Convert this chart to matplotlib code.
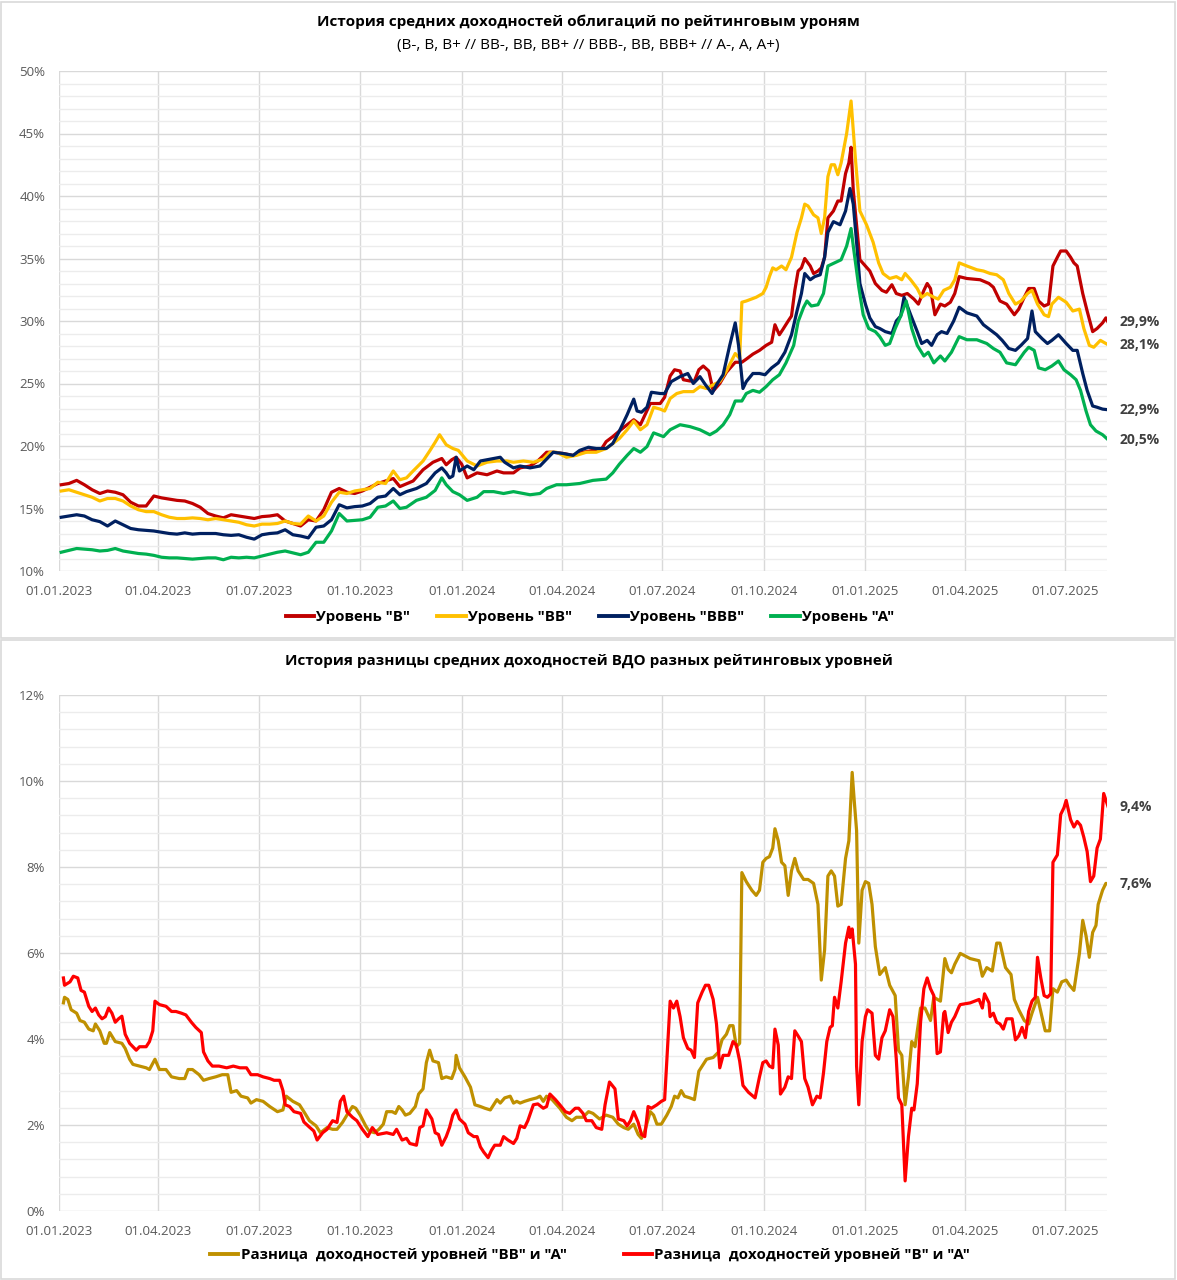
import numpy as np
import matplotlib
matplotlib.use('Agg')
import matplotlib.pyplot as plt
import matplotlib.dates as mdates
from matplotlib.lines import Line2D
from matplotlib.patches import Rectangle

plt.rcParams['font.family'] = ['Open Sans', 'DejaVu Sans']

# days since 01.01.2023
start = np.datetime64('2023-01-01')

week_days = [2, 9, 16, 23, 30, 37, 44, 51, 58, 65,
             72, 79, 86, 93, 100, 107, 114, 121, 128, 135,
             142, 149, 156, 163, 170, 177, 184, 191, 198, 205,
             212, 219, 226, 233, 240, 247, 254, 261, 268, 275,
             282, 289, 296, 303]

# ---- top chart: average yields by rating level ----
b_days = week_days + [
    309, 321, 330, 339, 347, 351, 356, 360, 365, 370,
    379, 388, 397, 403, 412, 418, 427, 434, 442, 448,
    457, 466, 475, 484, 492, 496, 502, 508, 515, 521,
    527, 536, 545, 549, 554, 558, 563, 566, 572, 576,
    580, 584, 589, 593, 599, 605, 613, 619, 623, 629,
    635, 641, 646, 649, 653, 656, 661, 664, 667, 670,
    673, 676, 681, 684, 688, 691, 694, 697, 702, 706,
    709, 713, 716, 718, 720, 723, 726, 731, 735, 740,
    746, 750, 755, 759, 764, 769, 775, 779, 784, 787,
    790, 794, 799, 803, 808, 812, 816, 823, 835, 843,
    847, 853, 859, 866, 870, 875, 879, 884, 888, 893,
    897, 901, 905, 908, 913, 917, 920, 923, 928, 932,
    937, 941, 946, 949, 951]
b_vals = [
    16.9, 17.0, 17.25, 16.9, 16.5, 16.2, 16.4, 16.3, 16.1, 15.5,
    15.2, 15.2, 16.0, 15.85, 15.75, 15.65, 15.6, 15.4, 15.1, 14.6,
    14.4, 14.25, 14.5, 14.4, 14.3, 14.2, 14.35, 14.4, 14.5, 14.0,
    13.8, 13.6, 14.1, 14.0, 14.9, 16.3, 16.6, 16.3, 16.2, 16.4,
    16.7, 17.0, 17.2, 17.4,
    16.75, 17.2, 18.1, 18.7, 19.0, 18.5, 18.9, 19.1, 18.55, 17.45,
    17.85, 17.7, 18.0, 17.85, 17.85, 18.25, 18.4, 18.8, 19.5, 19.5,
    19.4, 19.25, 19.5, 19.65, 19.8, 20.35, 20.75, 21.2, 21.7, 22.1,
    21.7, 23.4, 23.4, 23.9, 25.6, 26.1, 26.0, 25.3, 25.2, 25.2,
    26.1, 26.4, 26.0, 24.4, 25.0, 25.9, 26.7, 26.7, 26.95, 27.35,
    27.65, 28.05, 28.3, 29.7, 28.9, 29.3, 30.0, 30.4, 32.45, 34.0,
    34.25, 35.0, 34.4, 33.8, 34.0, 34.25, 35.1, 38.25, 38.8, 39.6,
    39.6, 41.8, 42.65, 43.9, 40.45, 37.7, 34.9, 34.4, 34.0, 33.0,
    32.45, 32.3, 32.9, 32.2, 32.05, 32.2, 31.75, 31.35, 32.45, 33.0,
    32.6, 30.5, 31.35, 31.2, 31.5, 32.2, 33.55, 33.4, 33.3, 33.0,
    32.7, 31.6, 31.35, 30.5, 30.95, 31.9, 32.6, 32.6, 31.6, 31.2,
    31.35, 34.4, 35.1, 35.6, 35.6, 35.1, 34.65, 34.4, 32.2, 30.8,
    29.15, 29.4, 29.85, 30.25, 29.9]

bb_days = week_days + [
    309, 315, 321, 330, 336, 341, 345, 351, 357, 362,
    370, 379, 388, 397, 406, 412, 421, 430, 439, 445,
    451, 460, 469, 478, 487, 496, 502, 508, 515, 521,
    527, 533, 539, 545, 549, 554, 560, 566, 575, 581,
    587, 593, 599, 605, 613, 617, 619, 623, 632, 638,
    641, 644, 647, 650, 655, 659, 664, 669, 673, 676,
    679, 684, 688, 691, 694, 697, 700, 703, 706, 709,
    714, 718, 722, 726, 732, 738, 743, 747, 753, 759,
    764, 767, 772, 778, 782, 787, 793, 797, 802, 808,
    812, 816, 823, 832, 838, 844, 850, 856, 861, 867,
    872, 878, 882, 887, 893, 897, 900, 906, 913, 919,
    925, 929, 934, 938, 944, 951]
bb_vals = [
    16.4, 16.5, 16.3, 16.1, 15.9, 15.6, 15.8, 15.8, 15.6, 15.2,
    14.9, 14.75, 14.75, 14.5, 14.3, 14.2, 14.2, 14.25, 14.2, 14.1,
    14.2, 14.1, 14.0, 13.9, 13.7, 13.6, 13.75, 13.75, 13.8, 14.0,
    13.8, 13.75, 14.4, 14.0, 14.4, 15.5, 16.3, 16.2, 16.4, 16.5,
    16.6, 17.1, 17.0, 18.0,
    17.3, 17.45, 18.0, 18.8, 19.6, 20.3, 20.9, 20.1, 19.8, 19.65,
    18.8, 18.4, 18.7, 18.8, 18.8, 18.7, 18.8, 18.7, 18.95, 19.5,
    19.5, 19.1, 19.25, 19.5, 19.5, 19.8, 20.2, 20.6, 21.3, 22.0,
    21.3, 21.7, 23.1, 22.95, 22.8, 23.8, 24.2, 24.35, 24.35, 24.75,
    24.6, 24.9, 25.15, 26.0, 27.4, 27.0, 31.5, 31.6, 31.9, 32.2,
    32.7, 33.55, 34.25, 34.1, 34.4, 34.1, 35.1, 37.1, 38.25, 39.35,
    39.2, 38.5, 38.25, 37.0, 38.25, 41.55, 42.5, 42.5, 41.7, 42.65,
    45.0, 47.6, 42.9, 38.8, 37.7, 36.3, 34.65, 33.8, 33.4, 33.55,
    33.3, 33.8, 33.3, 32.6, 31.9, 32.2, 31.9, 31.75, 32.45, 32.7,
    33.3, 34.65, 34.4, 34.1, 34.0, 33.8, 33.7, 33.3, 32.2, 31.35,
    31.6, 32.2, 32.45, 31.35, 30.5, 30.35, 31.35, 31.9, 31.5, 30.8,
    30.95, 29.4, 28.05, 27.9, 28.45, 28.1]

bbb_days = week_days + [
    309, 315, 324, 333, 341, 347, 351, 354, 357, 360,
    363, 370, 376, 382, 391, 400, 404, 412, 418, 427,
    436, 442, 448, 457, 466, 472, 480, 487, 496, 502,
    508, 515, 521, 524, 528, 533, 537, 545, 549, 555,
    563, 570, 575, 581, 586, 592, 596, 602, 608, 613,
    616, 620, 623, 629,
    635, 640, 646, 652, 658, 664, 669, 673, 676, 681,
    685, 690, 694, 697, 702, 708, 713, 717, 720, 723,
    726, 731, 735, 740, 744, 749, 755, 759, 763, 766,
    772, 778, 782, 787, 791, 796, 800, 805, 811, 816,
    823, 832, 838, 844, 850, 855, 861, 867, 872, 878,
    882, 885, 891, 896, 900, 906, 913, 919, 923, 928,
    932, 937, 941, 946, 951]
bbb_vals = [
    14.3, 14.4, 14.5, 14.4, 14.1, 13.95, 13.6, 14.0, 13.7, 13.4,
    13.3, 13.25, 13.2, 13.1, 13.0, 12.95, 13.05, 12.95, 13.0, 13.0,
    13.0, 12.9, 12.85, 12.9, 12.7, 12.55, 12.9, 13.0, 13.05, 13.3,
    12.9, 12.8, 12.65, 13.5, 13.6, 14.1, 15.3, 15.05, 15.15, 15.2,
    15.4, 15.9, 16.0, 16.6,
    16.1, 16.35, 16.6, 17.0, 17.85, 18.25, 17.85, 17.45, 17.6, 19.1,
    18.0, 18.4, 18.1, 18.8, 18.95, 19.1, 18.7, 18.25, 18.4, 18.25,
    18.4, 18.95, 19.5, 19.4, 19.25, 19.65, 19.9, 19.8, 19.8, 20.2,
    21.2, 22.5, 23.75, 22.8, 22.7, 23.1, 24.3, 24.2, 24.2, 25.15,
    25.55, 25.8, 25.0, 25.55, 24.9, 24.2, 24.9, 25.7, 28.05, 29.85,
    28.05, 24.6, 25.15, 25.8,
    25.8, 25.7, 26.25, 26.65, 27.5, 28.9, 30.8, 32.2, 33.8, 33.3,
    33.55, 33.7, 35.1, 37.1, 37.95, 37.7, 38.8, 40.6, 39.35, 36.3,
    33.0, 31.35, 30.25, 29.55, 29.4, 29.15, 29.0, 30.0, 30.4, 31.9,
    30.5, 29.15, 28.2, 28.45, 28.05, 28.9, 29.15, 29.0, 30.0, 31.1,
    30.65, 30.4, 29.7, 29.3, 28.9, 28.45, 27.8, 27.65, 28.05, 28.6,
    30.8, 29.15, 28.6, 28.2, 28.45, 28.9, 28.2, 27.65, 27.65, 25.8,
    24.45, 23.2, 23.1, 22.95, 22.9]

a_days = week_days + [
    309, 315, 324, 333, 341, 347, 351, 357, 363, 370,
    379, 385, 394, 403, 412, 421, 427, 436, 442, 451,
    460, 472, 484, 496, 502, 508, 515, 521, 527, 533,
    539, 548, 554, 563, 572, 581, 590, 596, 602, 608,
    613, 619, 623, 629,
    635, 641, 647, 653, 659, 666, 670, 675, 678, 682,
    688, 693, 697, 703, 709, 714, 718, 720, 725, 729,
    734, 740, 744, 749, 753, 758, 763, 768, 773, 778,
    784, 788, 793, 799, 803, 809, 816, 823, 832, 841,
    847, 853, 859, 867, 875, 879, 884, 888, 894, 900,
    906, 911, 917, 922, 926, 931, 935, 940, 946, 951]
a_vals = [
    11.5, 11.65, 11.8, 11.75, 11.7, 11.6, 11.65, 11.8, 11.6, 11.5,
    11.4, 11.35, 11.25, 11.1, 11.05, 11.05, 11.0, 10.95, 11.0, 11.05,
    11.05, 10.9, 11.1, 11.05, 11.1, 11.05, 11.2, 11.35, 11.5, 11.6,
    11.45, 11.3, 11.5, 12.3, 12.3, 13.2, 14.6, 14.0, 14.05, 14.1,
    14.3, 15.1, 15.2, 15.6,
    15.0, 15.1, 15.65, 15.9, 16.45, 17.45, 16.9, 16.35, 16.1, 15.65,
    15.9, 16.35, 16.35, 16.2, 16.35, 16.2, 16.1, 16.2, 16.6, 16.9,
    16.9, 17.0, 17.25, 17.35, 17.85, 18.55, 19.25, 19.8, 19.5, 19.95,
    21.05, 20.75, 21.3, 21.7, 21.55, 21.3, 20.9, 21.2, 21.7, 22.5,
    23.6, 23.6, 24.2, 24.45,
    24.3, 24.75, 25.3, 25.7, 26.65, 28.05, 29.95, 31.1, 31.6, 31.2,
    31.3, 32.2, 34.4, 34.65, 34.9, 36.0, 37.4, 36.0, 32.7, 30.5,
    29.4, 29.15, 28.75, 28.05, 28.2, 29.4, 30.4, 31.6, 29.4, 28.05,
    27.2, 27.5, 26.65, 27.2, 26.8, 27.5, 28.75, 28.5, 28.5, 28.2,
    27.8, 27.5, 26.65, 26.5, 27.5, 27.9, 27.65, 26.25, 26.1, 26.4,
    26.8, 26.1, 25.7, 25.3, 24.45, 22.8, 21.7, 21.2, 20.9, 20.5]

# ---- bottom chart: spreads ----
bba_days = [
    4, 5, 8, 11, 16, 19, 23, 27, 31, 33,
    37, 41, 43, 46, 51, 57, 60, 64, 67, 73,
    79, 82, 87, 91, 97, 102, 109, 114, 117, 121,
    127, 131, 136, 142, 148, 153, 156, 161, 165, 171,
    174, 179, 185, 191, 198, 203, 206, 212, 218, 222,
    227, 233, 237, 243, 248, 252, 257, 261, 266, 269,
    273, 278, 281, 286, 290,
    294, 297, 302, 305, 308, 311, 314, 318, 323, 326,
    330, 333, 336, 339, 344, 347, 351, 356, 359, 360,
    363, 368, 373, 377, 382, 386, 391, 397, 400, 404,
    409, 412, 415, 418, 422, 427, 433, 436, 439, 442,
    447, 454, 460, 465, 469, 475, 480, 484, 490, 496,
    502, 507, 512, 516, 521, 525, 528, 531, 536, 539,
    542, 546, 551, 555, 558, 561, 564, 567, 572, 576,
    580, 583, 587, 593, 598, 601, 605, 608, 611, 614,
    617, 619, 623, 628, 632,
    635, 638, 641, 644, 647, 649, 652, 655, 658, 661,
    664, 667, 670, 675, 679, 684, 688, 690, 691, 694,
    697, 700, 703, 706, 709, 713, 716, 719, 721, 723,
    725, 728, 731, 734, 737, 740, 744, 749, 753, 758,
    761, 764, 767, 770, 773, 776, 781, 785, 790, 793,
    799, 803, 806, 809, 812, 817, 826, 834, 837, 841,
    846, 850, 853, 858, 863, 866, 870, 875, 879, 882,
    887, 891, 894, 898, 901, 905, 909, 913, 916, 920,
    925, 928, 931, 934, 937, 940, 942, 946, 949, 951]
bba_vals = [
    4.84, 4.97, 4.92, 4.68, 4.6, 4.43, 4.39, 4.23, 4.19, 4.35,
    4.19, 3.9, 3.9, 4.15, 3.94, 3.9, 3.78, 3.53, 3.41, 3.37,
    3.33, 3.29, 3.53, 3.29, 3.29, 3.12, 3.08, 3.08, 3.29, 3.29,
    3.17, 3.04, 3.08, 3.12, 3.17, 3.17, 2.76, 2.8, 2.67, 2.63,
    2.51, 2.59, 2.55, 2.43, 2.31, 2.35, 2.67, 2.55, 2.47, 2.31,
    2.1, 1.98, 1.82, 1.94, 1.9, 1.9, 2.06, 2.23, 2.43, 2.39,
    2.23, 1.98, 1.86, 1.82, 1.9,
    2.02, 2.31, 2.31, 2.27, 2.43, 2.35, 2.23, 2.27, 2.43, 2.72,
    2.84, 3.45, 3.74, 3.49, 3.45, 3.08, 3.12, 3.08, 3.29, 3.62,
    3.33, 3.12, 2.88, 2.47, 2.43, 2.39, 2.35, 2.59, 2.51, 2.63,
    2.67, 2.51, 2.55, 2.51, 2.55, 2.59, 2.63, 2.67, 2.55, 2.67,
    2.59, 2.39, 2.18, 2.1, 2.18, 2.18, 2.31, 2.27, 2.14, 2.23,
    2.18, 2.02, 1.94, 1.9, 2.02, 1.78, 1.69, 1.86, 2.31, 2.23,
    2.02, 2.02, 2.23, 2.43, 2.67, 2.63, 2.8, 2.67, 2.63, 2.59,
    3.25, 3.37, 3.53, 3.57, 3.7, 3.98, 4.11, 4.31, 4.31, 3.82,
    3.9, 7.87, 7.66, 7.46, 7.34,
    7.46, 8.11, 8.2, 8.24, 8.44, 8.89, 8.61, 8.11, 8.03, 7.34,
    7.91, 8.2, 7.91, 7.71, 7.71, 7.62, 7.13, 5.99, 5.37, 6.07,
    7.79, 7.91, 7.79, 7.09, 7.13, 8.2, 8.61, 10.2, 9.5, 8.85,
    6.23, 7.46, 7.66, 7.62, 7.13, 6.15, 5.5, 5.66, 5.25, 5.01,
    3.74, 3.62, 2.47, 3.12, 3.94, 3.82, 4.72, 4.72, 4.43, 4.97,
    4.88, 5.87, 5.62, 5.54, 5.74, 5.99, 5.87, 5.82, 5.46, 5.66,
    5.58, 6.23, 6.23, 5.66, 5.5, 4.92, 4.68, 4.43, 4.35, 4.6,
    4.97, 4.52, 4.19, 4.19, 5.17, 5.09, 5.33, 5.37, 5.25, 5.13,
    5.99, 6.76, 6.4, 5.9, 6.48, 6.64, 7.13, 7.46, 7.62, 7.6]

ba_days = [
    4, 5, 10, 13, 17, 20, 23, 27, 30, 33,
    36, 39, 42, 45, 48, 51, 54, 57, 60, 64,
    70, 73, 79, 82, 85, 87, 91, 97, 102, 106,
    111, 115, 120, 124, 129, 131, 135, 139, 145, 152,
    158, 164, 170, 174, 180, 185, 191, 195, 200, 203,
    205, 209, 213, 219, 222, 227, 231, 234, 239, 243,
    248, 252, 255, 258, 261, 266, 270, 275, 280, 284,
    289,
    297, 303, 306, 311, 315, 318, 324, 327, 330, 333,
    338, 341, 344, 347, 351, 354, 357, 360, 363, 368,
    371, 376, 379, 382, 385, 389, 392, 395, 400, 403,
    407, 412, 415, 418, 422, 425, 430, 434, 439, 442,
    445, 450, 454, 459, 463, 468, 471, 475, 478, 483,
    487, 492, 495, 499, 504, 507, 512, 515, 518, 521,
    525, 528, 531, 534, 537, 542, 546, 549, 554, 557,
    560, 563, 566, 570, 573, 576, 579, 583, 586, 589,
    593, 596, 599, 602, 607, 611, 614, 617, 620, 625,
    631,
    635, 638, 641, 644, 647, 649, 652, 654, 658, 661,
    664, 667, 670, 673, 676, 679, 683, 687, 690, 693,
    696, 699, 701, 703, 706, 709, 713, 716, 717, 719,
    722, 723, 725, 728, 731, 733, 737, 740, 743, 746,
    749, 753, 756, 759, 761, 764, 767, 770, 773, 775,
    778, 781, 784, 787, 790, 793, 796, 799, 802, 803,
    806, 809, 812, 816, 817, 826, 834, 837, 839, 843,
    844, 847, 850, 853, 856, 859, 864, 867, 870, 873,
    876, 879, 882, 885, 887, 890, 893, 896, 899, 901,
    905, 908, 911, 913, 917, 920, 923, 926, 929, 932,
    935, 938, 941, 944, 947, 951]
ba_vals = [
    5.42, 5.25, 5.33, 5.46, 5.42, 5.13, 5.09, 4.76, 4.64, 4.72,
    4.56, 4.47, 4.52, 4.72, 4.6, 4.39, 4.47, 4.53, 4.11, 3.9,
    3.74, 3.82, 3.82, 3.94, 4.19, 4.88, 4.8, 4.76, 4.64, 4.64,
    4.6, 4.56, 4.39, 4.27, 4.15, 3.7, 3.49, 3.37, 3.37, 3.33,
    3.37, 3.33, 3.33, 3.17, 3.17, 3.12, 3.08, 3.04, 3.04, 2.8,
    2.47, 2.43, 2.31, 2.27, 2.07, 1.95, 1.86, 1.65, 1.82, 1.9,
    2.1, 2.06, 2.55, 2.67, 2.31, 2.18, 2.1, 1.9, 1.73, 1.94,
    1.78,
    1.82, 1.78, 1.9, 1.65, 1.69, 1.57, 1.53, 1.94, 1.98, 2.35,
    2.14, 1.82, 1.78, 1.53, 1.73, 1.94, 2.23, 2.35, 2.14, 2.02,
    1.82, 1.73, 1.73, 1.49, 1.37, 1.24, 1.41, 1.53, 1.53, 1.73,
    1.65, 1.57, 1.69, 1.98, 1.94, 2.1, 2.47, 2.49, 2.39, 2.43,
    2.72, 2.59, 2.47, 2.31, 2.27, 2.39, 2.39, 2.27, 2.1, 2.1,
    1.94, 1.9, 2.47, 3.0, 2.84, 2.14, 2.1, 1.98, 2.1, 2.31,
    2.06, 1.78, 1.73, 2.43, 2.39, 2.47, 2.55, 2.59, 4.88, 4.72,
    4.88, 4.52, 4.03, 3.78, 3.74, 3.57, 4.84, 5.09, 5.25, 5.25,
    4.92, 4.35, 3.33, 3.62, 3.62, 3.94, 3.86, 3.49, 2.92, 2.76,
    2.63,
    3.12, 3.45, 3.49, 3.37, 3.33, 4.23, 3.86, 2.72, 2.88, 3.12,
    3.08, 4.19, 4.07, 3.94, 3.08, 2.88, 2.47, 2.67, 2.63, 3.21,
    3.94, 4.27, 4.31, 4.97, 4.72, 5.33, 6.23, 6.6, 6.36, 6.56,
    5.74, 3.37, 2.47, 3.94, 4.52, 4.68, 4.6, 3.62, 3.53, 4.03,
    4.19, 4.68, 4.52, 3.53, 2.63, 2.47, 0.7, 1.73, 2.39, 2.35,
    2.96, 4.39, 5.17, 5.42, 5.17, 5.01, 3.66, 3.7, 4.6, 4.64,
    4.15, 4.39, 4.52, 4.76, 4.8, 4.84, 4.92, 4.72, 5.05, 4.84,
    4.52, 4.6, 4.39, 4.35, 4.23, 4.47, 4.47, 3.98, 4.07, 4.27,
    4.03, 4.64, 4.88, 4.97, 5.9, 5.42, 5.01, 4.97, 5.05, 8.11,
    8.28, 9.22, 9.38, 9.55, 9.1, 8.93, 9.06, 8.97, 8.69, 8.36,
    7.66, 7.79, 8.44, 8.65, 9.71, 9.4]


def to_dates(days):
    return start + np.array(days).astype('timedelta64[D]')


def pct(v):
    return ('%.1f' % v).replace('.', ',') + '%'


W, H = 1177, 1280
fig = plt.figure(figsize=(W / 100, H / 100), dpi=100)
fig.patch.set_facecolor('white')

ax1 = fig.add_axes([59 / W, 1 - 571 / H, (1107 - 59) / W, 500 / H])
ax2 = fig.add_axes([59 / W, 1 - 1211 / H, (1107 - 59) / W, 516 / H])

xmin = np.datetime64('2023-01-01')
xmax = np.datetime64('2025-08-08')

for ax in (ax1, ax2):
    ax.set_xlim(xmin, xmax)
    for s in ax.spines.values():
        s.set_visible(False)
    ax.xaxis.set_major_locator(mdates.MonthLocator(bymonth=[1, 4, 7, 10]))
    ax.xaxis.set_major_formatter(mdates.DateFormatter('%d.%m.%Y'))
    ax.tick_params(which='both', length=0)
    ax.tick_params(labelsize=9.5, labelcolor='#595959')
    ax.tick_params(axis='x', pad=10)
    ax.tick_params(axis='y', pad=10)
    ax.grid(which='major', color='#d9d9d9', lw=1)
    ax.grid(which='minor', axis='y', color='#ececec', lw=1)
    ax.set_axisbelow(True)

# top chart
ax1.set_ylim(10, 50)
ax1.set_yticks(np.arange(10, 51, 5))
ax1.set_yticks(np.arange(10, 51, 1), minor=True)
ax1.set_yticklabels(['%d%%' % v for v in range(10, 51, 5)])

top_series = [
    (b_days, b_vals, '#C00000', 'Уровень "B"'),
    (bb_days, bb_vals, '#FFC000', 'Уровень "BB"'),
    (bbb_days, bbb_vals, '#002060', 'Уровень "BBB"'),
    (a_days, a_vals, '#00B050', 'Уровень "A"'),
]
for days, vals, col, lab in top_series:
    d = to_dates(days)
    ax1.plot(d, vals, color=col, lw=2.3, solid_joinstyle='round')
    ax1.annotate(pct(vals[-1]), xy=(d[-1], vals[-1]), xytext=(8, 0),
                 textcoords='offset points', va='center', ha='left',
                 fontsize=10, fontweight='bold', color='#404040',
                 annotation_clip=False)

# bottom chart
ax2.set_ylim(0, 12)
ax2.set_yticks(np.arange(0, 13, 2))
ax2.set_yticks(np.arange(0, 12.01, 0.4), minor=True)
ax2.set_yticklabels(['%d%%' % v for v in range(0, 13, 2)])

bottom_series = [
    (bba_days, bba_vals, '#BF9000', 'Разница  доходностей уровней "BB" и "A"'),
    (ba_days, ba_vals, '#FF0000', 'Разница  доходностей уровней "B" и "A"'),
]
for days, vals, col, lab in bottom_series:
    d = to_dates(days)
    ax2.plot(d, vals, color=col, lw=2.3, solid_joinstyle='round')
    ax2.annotate(pct(vals[-1]), xy=(d[-1], vals[-1]), xytext=(8, 0),
                 textcoords='offset points', va='center', ha='left',
                 fontsize=10, fontweight='bold', color='#404040',
                 annotation_clip=False)

# titles
fig.text(0.5, 1 - 22 / H, 'История средних доходностей облигаций по рейтинговым уроням',
         ha='center', va='center', fontsize=11, fontweight='bold', color='black')
fig.text(0.5, 1 - 45 / H, '(B-, B, B+ // BB-, BB, BB+ // BBB-, BB, BBB+ // A-, A, A+)',
         ha='center', va='center', fontsize=11, color='black')
fig.text(0.5, 1 - 661 / H, 'История разницы средних доходностей ВДО разных рейтинговых уровней',
         ha='center', va='center', fontsize=11, fontweight='bold', color='black')

# legends
h1 = [Line2D([], [], color=c, lw=2.8) for _, _, c, _ in top_series]
fig.legend(h1, [l for _, _, _, l in top_series], loc='center', ncol=4,
           bbox_to_anchor=(590 / W, 1 - 617 / H), frameon=False,
           handlelength=1.9, handletextpad=0.15, columnspacing=1.8,
           prop={'size': 10.8, 'weight': 'bold'})
h2 = [Line2D([], [], color=c, lw=2.8) for _, _, c, _ in bottom_series]
fig.legend(h2, [l for _, _, _, l in bottom_series], loc='center', ncol=2,
           bbox_to_anchor=(590 / W, 1 - 1255 / H), frameon=False,
           handlelength=1.9, handletextpad=0.15, columnspacing=3.8,
           prop={'size': 10.8, 'weight': 'bold'})

# chart area borders
fig.add_artist(Rectangle((1 / W, 1 - 638 / H), 1 - 3 / W, 636 / H, transform=fig.transFigure,
                         fill=False, edgecolor='#d9d9d9', lw=1.2))
fig.add_artist(Rectangle((1 / W, 1 / H), 1 - 3 / W, 1 - 641 / H, transform=fig.transFigure,
                         fill=False, edgecolor='#d9d9d9', lw=1.2))

fig.savefig('out.png', dpi=100, facecolor='white')
